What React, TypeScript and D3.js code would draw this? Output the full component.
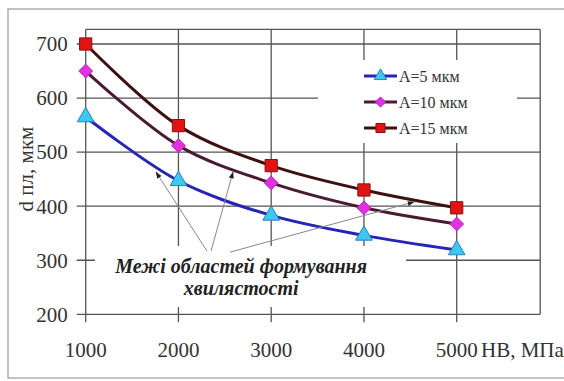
import React from 'react';
import * as d3 from 'd3';

// hardness HB, MPa
const hardness = [1000, 2000, 3000, 4000, 5000];
// d пл, мкм for each amplitude
const seriesA5 = [565, 447, 383, 346, 319];
const seriesA10 = [650, 512, 443, 397, 367];
const seriesA15 = [700, 549, 475, 430, 397];
const yTicks = [200, 300, 400, 500, 600, 700];
const legendLabels = ['A=5 мкм', 'A=10 мкм', 'A=15 мкм'];
const noteLines = ['Межі областей формування', 'хвилястості'];
// annotation arrows, in data units: [fromX, fromY, toX, toY]
const noteArrows = [
  [2308, 317, 1758, 463],
  [2351, 317, 2588, 463],
  [2556, 315, 4540, 408],
];

const W = 564;
const H = 381;
const serif = "'Liberation Serif', 'Times New Roman', serif";

const x = d3.scaleLinear().domain([1000, 5000]).range([85.7, 456.7]);
const y = d3.scaleLinear().domain([200, 700]).range([314.3, 44]);

// diamond as a rotated square
const diamond = {
  draw(ctx, size) {
    const r = Math.sqrt(size / 2);
    ctx.moveTo(0, -r);
    ctx.lineTo(r, 0);
    ctx.lineTo(0, r);
    ctx.lineTo(-r, 0);
    ctx.closePath();
  },
};

const series = [
  {name: legendLabels[0], values: seriesA5, line: '#2626b4', fill: '#3cc8f0', stroke: '#2a7fc0', shape: d3.symbolTriangle, size: 120},
  {name: legendLabels[1], values: seriesA10, line: '#4a1c34', fill: '#e030e0', stroke: '#c020c0', shape: diamond, size: 95},
  {name: legendLabels[2], values: seriesA15, line: '#3e1010', fill: '#e01414', stroke: '#8a1010', shape: d3.symbolSquare, size: 150},
];

const App = () => {
  const left = x(1000);
  const right = x(5900);
  const top = y(727);
  const bottom = y(200);
  const grid = '#555';

  const line = d3.line<number>()
    .x((d, i) => x(hardness[i]))
    .y(d => y(d))
    .curve(d3.curveCatmullRom.alpha(0.5));

  return (
    <svg width={W} height={H} style={{position: 'absolute', left: 0, top: 0}}>
      <defs>
        <marker id="arr" viewBox="0 0 10 10" refX="9" refY="5" markerWidth="7" markerHeight="7" orient="auto">
          <path d="M0,1.5 L10,5 L0,8.5 z" fill="#222" />
        </marker>
      </defs>
      <rect x={0} y={0} width={W} height={H} fill="#fff" />
      <rect x={8} y={9} width={620} height={369} fill="none" stroke="#999" strokeWidth={1.2} />

      {/* grid */}
      <g stroke={grid} strokeWidth={1.3}>
        {yTicks.map(t => (
          <line key={'h' + t} x1={left - 9} x2={right} y1={y(t)} y2={y(t)} />
        ))}
        {hardness.map(h => (
          <line key={'v' + h} x1={x(h)} x2={x(h)} y1={top} y2={bottom + 8} />
        ))}
        <line x1={left} x2={right} y1={top} y2={top} />
        <line x1={right} x2={right} y1={top} y2={bottom} />
      </g>

      {/* boxes of legend and note hide the grid */}
      <rect x={318} y={60} width={199} height={83} fill="#fff" />
      <rect x={95} y={246} width={311} height={61} fill="#fff" />

      {/* tick labels */}
      <g style={{fontFamily: serif}} fontSize={21} fill="#333">
        {yTicks.map(t => (
          <text key={'yl' + t} x={left - 18} y={y(t)} dy="0.35em" textAnchor="end">{t}</text>
        ))}
        {hardness.map(h => (
          <text key={'xl' + h} x={x(h)} y={357} textAnchor="middle">{h}</text>
        ))}
        <text x={481} y={357}>НВ, МПа</text>
        <text transform={`translate(33, 169) rotate(-90)`} textAnchor="middle">d пл, мкм</text>
      </g>

      {/* curves */}
      {series.map(s => (
        <path key={s.name} d={line(s.values) || ''} fill="none" stroke={s.line} strokeWidth={3} />
      ))}
      {series.map(s => s.values.map((v, i) => (
        <path key={s.name + i} transform={`translate(${x(hardness[i])},${y(v)})`}
          d={d3.symbol(s.shape, s.size)() || ''} fill={s.fill} stroke={s.stroke} strokeWidth={1} />
      )))}

      {/* legend */}
      <g style={{fontFamily: serif}} fontSize={16} fill="#333">
        {series.map((s, i) => {
          const ly = 76 + i * 26;
          return (
            <g key={'lg' + i}>
              <line x1={364} x2={397} y1={ly} y2={ly} stroke={s.line} strokeWidth={3} />
              <path transform={`translate(380.5,${ly})`} d={d3.symbol(s.shape, s.size * 0.55)() || ''}
                fill={s.fill} stroke={s.stroke} strokeWidth={1} />
              <text x={399} y={ly} dy="0.35em">{s.name}</text>
            </g>
          );
        })}
      </g>

      {/* note */}
      <g stroke="#888" strokeWidth={1}>
        {noteArrows.map((a, i) => (
          <line key={'ar' + i} x1={x(a[0])} y1={y(a[1])} x2={x(a[2])} y2={y(a[3])} markerEnd="url(#arr)" />
        ))}
      </g>
      <g style={{fontFamily: serif}} fontSize={20} fontStyle="italic" fontWeight="bold" fill="#222" textAnchor="middle">
        {noteLines.map((t, i) => (
          <text key={'n' + i} x={x(2676)} y={y(276) + i * 22}>{t}</text>
        ))}
      </g>
    </svg>
  );
};

export default App;
